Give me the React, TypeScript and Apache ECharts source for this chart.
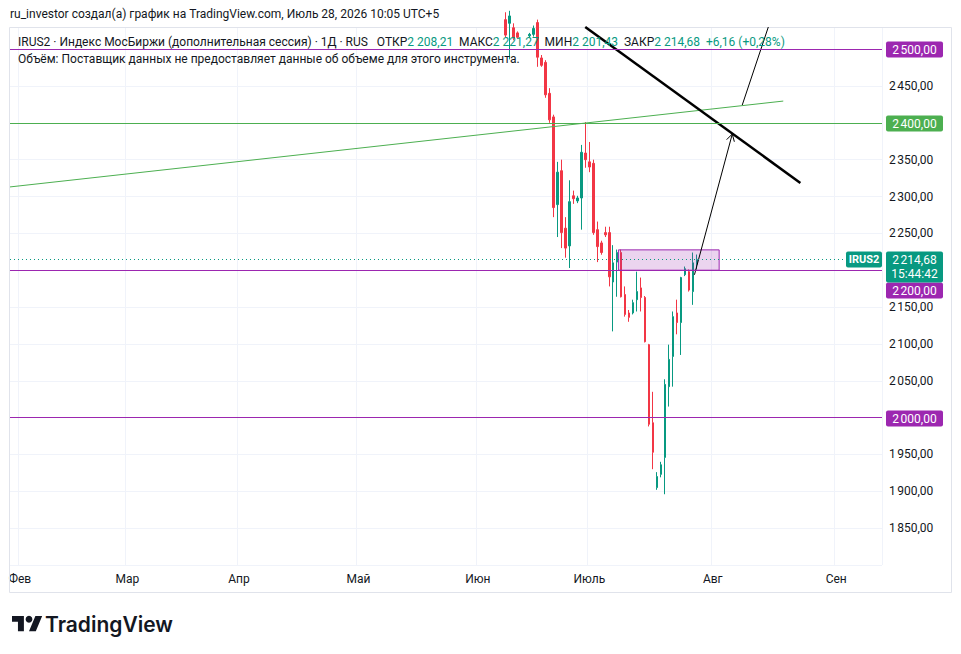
import React, { useEffect, useRef } from 'react';
import * as echarts from 'echarts';

// ---------- data ----------
const calendarStart = '2026-01-30';
const calendarEnd = '2026-09-12';
const closedDays = ['2026-02-23', '2026-03-07', '2026-03-08', '2026-03-09', '2026-05-01', '2026-06-12', '2026-06-13'];
const monthLabels = ['Янв', 'Фев', 'Мар', 'Апр', 'Май', 'Июн', 'Июль', 'Авг', 'Сен', 'Окт', 'Ноя', 'Дек'];

const candleDates = [
  '2026-06-08', '2026-06-09', '2026-06-10', '2026-06-11', '2026-06-16', '2026-06-17', '2026-06-18', '2026-06-19',
  '2026-06-20', '2026-06-21', '2026-06-22', '2026-06-23', '2026-06-24', '2026-06-25', '2026-06-26', '2026-06-27',
  '2026-06-28', '2026-06-29', '2026-06-30', '2026-07-01', '2026-07-02', '2026-07-03', '2026-07-04', '2026-07-05',
  '2026-07-06', '2026-07-07', '2026-07-08', '2026-07-09', '2026-07-10', '2026-07-11', '2026-07-12', '2026-07-13',
  '2026-07-14', '2026-07-15', '2026-07-16', '2026-07-17', '2026-07-18', '2026-07-19', '2026-07-20', '2026-07-21',
  '2026-07-22', '2026-07-23', '2026-07-24', '2026-07-25', '2026-07-26', '2026-07-27', '2026-07-28',
];
const openValues = [
  2540, 2535, 2529, 2522, 2518, 2520, 2536, 2488,
  2482, 2440, 2408, 2289, 2335, 2257, 2233, 2301,
  2294, 2298, 2359, 2347, 2345, 2255, 2237, 2251,
  2251, 2184, 2211, 2224, 2167, 2142, 2142, 2160,
  2176, 2163, 2099, 1993, 1905, 1923, 1946, 2042,
  2083, 2142, 2129, 2194, 2198, 2171, 2208.21,
];
const closeValues = [
  2519, 2545, 2515, 2516, 2520, 2528, 2489, 2478,
  2438, 2404, 2285, 2333, 2251, 2230, 2293, 2297,
  2298, 2360, 2350, 2340, 2251, 2232, 2224, 2248,
  2191, 2210, 2224, 2164, 2140, 2136, 2156, 2171,
  2163, 2103, 1991, 1953, 1920, 1936, 2045, 2079,
  2137, 2129, 2190, 2202, 2173, 2210, 2214.68,
];
const lowValues = [
  2516, 2486, 2512, 2514, 2516, 2517, 2476, 2476,
  2434, 2400, 2272, 2245, 2230, 2217, 2203, 2290,
  2291, 2255, 2339, 2333, 2248, 2211, 2221, 2245,
  2178, 2117, 2164, 2163, 2137, 2130, 2140, 2144,
  2144, 2102, 1988, 1930, 1902, 1919, 1896, 2015,
  2042, 2113, 2085, 2192, 2171, 2153, 2201.43,
];
const highValues = [
  2550, 2552, 2535, 2524, 2522, 2532, 2540, 2492,
  2485, 2447, 2411, 2347, 2350, 2272, 2322, 2308,
  2301, 2370, 2401, 2374, 2350, 2266, 2240, 2259,
  2259, 2234, 2228, 2228, 2178, 2146, 2160, 2198,
  2190, 2165, 2100, 2035, 1926, 1940, 2052, 2099,
  2144, 2160, 2191, 2205, 2201, 2224, 2221.27,
];

const levelValues = [2500, 2400, 2200, 2000];
const levelColors = ['#9c27b0', '#4caf50', '#9c27b0', '#9c27b0'];
const lastPrice = 2214.68;
const lastTime = '15:44:42';
const symbolName = 'IRUS2';

// drawings: [bar position, price] pairs
const greenTrend = [[-0.5, 2313.0], [193.7, 2429.5]];
const blackTrend = [[143.97, 2530], [198.0, 2318.4]];
const arrowUp = [[171.4, 2193.8], [180.9, 2384.8]];
const arrowTop = [[183.4, 2424.1], [189.95, 2530]];
const zoneBox = [[152.3, 2200], [177.6, 2227.6]];

const titleText = 'ru_investor создал(а) график на TradingView.com, Июль 28, 2026 10:05 UTC+5';
const legendName = 'IRUS2 · Индекс МосБиржи (дополнительная сессия) · 1Д · RUS';
const legendFields = [
  ['ОТКР', '2 208,21'],
  ['МАКС', '2 221,27'],
  ['МИН', '2 201,43'],
  ['ЗАКР', '2 214,68'],
];
const legendChange = '+6,16 (+0,28%)';
const volumeText = 'Объём: Поставщик данных не предоставляет данные об объеме для этого инструмента.';

// ---------- styles ----------
const UP = '#089981';
const DOWN = '#f23645';
const TEXT = '#131722';
const FONT = 'Roboto, "Noto Sans", sans-serif';
const HFONT = `12px ${FONT}`;

const fmt = (v: number) => {
  const [i, d] = v.toFixed(2).split('.');
  return i.replace(/\B(?=(\d{3})+(?!\d))/g, '\u202F') + ',' + d;
};

function buildCategories() {
  const out: string[] = [];
  const d = new Date(calendarStart + 'T00:00:00Z');
  const end = new Date(calendarEnd + 'T00:00:00Z');
  while (d <= end) {
    const s = d.toISOString().slice(0, 10);
    if (!closedDays.includes(s)) out.push(s);
    d.setUTCDate(d.getUTCDate() + 1);
  }
  return out;
}

echarts.graphic.registerShape(
  'tvlogo',
  echarts.graphic.extendPath('M14 22H7V11H0V4h14v18zM28 22h-8l7.5-18h8L28 22z', {}) as any
);

export default function App() {
  const ref = useRef<HTMLDivElement>(null);

  useEffect(() => {
    if (!ref.current) return;
    const chart = echarts.init(ref.current, undefined, { renderer: 'svg' });

    const categories = buildCategories();
    const N = categories.length;
    const monthStarts = new Set<number>();
    for (let i = 1; i < N; i++) {
      if (categories[i].slice(5, 7) !== categories[i - 1].slice(5, 7)) monthStarts.add(i);
    }
    const candleMap: Record<string, number[]> = {};
    candleDates.forEach((d, i) => {
      candleMap[d] = [openValues[i], closeValues[i], lowValues[i], highValues[i]];
    });
    const candleData = categories.map((c) => (candleMap[c] ? candleMap[c] : '-'));

    const hiddenLabels = new Set(levelValues);
    const drawings = [
      [greenTrend[0][0], greenTrend[0][1], greenTrend[1][0], greenTrend[1][1], 0],
      [zoneBox[0][0], zoneBox[0][1], zoneBox[1][0], zoneBox[1][1], 4],
      [blackTrend[0][0], blackTrend[0][1], blackTrend[1][0], blackTrend[1][1], 1],
      [arrowUp[0][0], arrowUp[0][1], arrowUp[1][0], arrowUp[1][1], 2],
      [arrowTop[0][0], arrowTop[0][1], arrowTop[1][0], arrowTop[1][1], 3],
    ];

    const option: any = {
      animation: false,
      backgroundColor: '#ffffff',
      grid: { left: 10, right: 79, top: 27, bottom: 89, containLabel: false },
      xAxis: [
        {
          type: 'category',
          data: categories,
          boundaryGap: true,
          axisLine: { show: false },
          axisTick: { show: false },
          axisLabel: {
            interval: (i: number) => monthStarts.has(i),
            formatter: (v: string) => monthLabels[parseInt(v.slice(5, 7), 10) - 1],
            color: TEXT,
            fontSize: 12,
            fontFamily: FONT,
            margin: 8,
          },
          splitLine: {
            show: true,
            interval: (i: number) => monthStarts.has(i),
            lineStyle: { color: '#f0f3fa', width: 1 },
          },
        },
        { type: 'value', min: -0.5, max: N - 0.5, show: false },
      ],
      yAxis: {
        type: 'value',
        position: 'right',
        min: 1800,
        max: 2530,
        interval: 50,
        axisLine: { show: false },
        axisTick: { show: false },
        axisLabel: {
          margin: 7,
          color: TEXT,
          fontSize: 12,
          fontFamily: FONT,
          formatter: (v: number) => (v % 50 !== 0 || v <= 1800 || hiddenLabels.has(v) ? '' : fmt(v)),
        },
        splitLine: { lineStyle: { color: '#f0f3fa', width: 1 } },
      },
      series: [
        {
          type: 'candlestick',
          xAxisIndex: 0,
          yAxisIndex: 0,
          data: candleData,
          barWidth: 2,
          clip: true,
          itemStyle: { color: UP, color0: DOWN, borderColor: UP, borderColor0: DOWN, borderWidth: 1 },
          markLine: {
            silent: true,
            symbol: ['none', 'none'],
            label: { show: false },
            data: [
              ...levelValues.map((v, i) => ({ yAxis: v, lineStyle: { color: levelColors[i], width: 1, type: 'solid' } })),
              { yAxis: lastPrice, lineStyle: { color: UP, width: 1, type: [1, 3] } },
            ],
          },
        },
        {
          type: 'custom',
          xAxisIndex: 1,
          yAxisIndex: 0,
          silent: true,
          clip: false,
          z: 4,
          data: drawings,
          renderItem: (params: any, api: any) => {
            const p1 = api.coord([api.value(0), api.value(1)]);
            const p2 = api.coord([api.value(2), api.value(3)]);
            const kind = api.value(4);
            const line = (stroke: string, w: number) => ({
              type: 'line',
              shape: { x1: p1[0], y1: p1[1], x2: p2[0], y2: p2[1] },
              style: { stroke, lineWidth: w, fill: null },
            });
            if (kind === 0) return line('#4caf50', 1);
            if (kind === 1) return line('#000000', 2.5);
            if (kind === 3) return line('#000000', 1);
            if (kind === 4) {
              return {
                type: 'rect',
                shape: {
                  x: Math.min(p1[0], p2[0]),
                  y: Math.min(p1[1], p2[1]),
                  width: Math.abs(p2[0] - p1[0]),
                  height: Math.abs(p2[1] - p1[1]),
                },
                style: { fill: 'rgba(156,39,176,0.2)', stroke: '#9c27b0', lineWidth: 1 },
              };
            }
            const a = Math.atan2(p2[1] - p1[1], p2[0] - p1[0]);
            const L = 8;
            const s = Math.PI / 6;
            return {
              type: 'group',
              children: [
                line('#000000', 1),
                {
                  type: 'polyline',
                  shape: {
                    points: [
                      [p2[0] - L * Math.cos(a - s), p2[1] - L * Math.sin(a - s)],
                      [p2[0], p2[1]],
                      [p2[0] - L * Math.cos(a + s), p2[1] - L * Math.sin(a + s)],
                    ],
                  },
                  style: { stroke: '#000000', lineWidth: 1, fill: null },
                },
              ],
            };
          },
        },
      ],
    };
    chart.setOption(option);

    const yPix = (v: number) => chart.convertToPixel({ yAxisIndex: 0 }, v) as number;
    const boxX = 886;
    const boxW = 57;
    const py = yPix(lastPrice);
    const priceTop = Math.round(py) - 7.5;
    const priceBottom = priceTop + 31;

    const graphics: any[] = [];
    graphics.push({
      type: 'rect',
      shape: { x: 9.5, y: 27.5, width: 942, height: 565 },
      style: { fill: 'none', stroke: '#e0e3eb', lineWidth: 1 },
      z: 1,
      silent: true,
    });
    levelValues.forEach((v, i) => {
      let top = Math.round(yPix(v)) - 7.5;
      if (top < priceBottom && top + 16 > priceTop) top = priceBottom;
      graphics.push({
        type: 'rect',
        shape: { x: boxX, y: top, width: boxW, height: 16, r: 2 },
        style: { fill: levelColors[i] },
        z: 50,
      });
      graphics.push({
        type: 'text',
        x: boxX + boxW / 2,
        y: top + 8,
        style: { text: fmt(v), fill: '#ffffff', font: `12px ${FONT}`, align: 'center', verticalAlign: 'middle' },
        z: 51,
      });
    });
    graphics.push({
      type: 'rect',
      shape: { x: boxX, y: priceTop, width: boxW, height: 31, r: 2 },
      style: { fill: UP },
      z: 52,
    });
    graphics.push({
      type: 'text',
      x: boxX + boxW / 2,
      y: priceTop + 8,
      style: { text: fmt(lastPrice), fill: '#ffffff', font: `12px ${FONT}`, align: 'center', verticalAlign: 'middle' },
      z: 53,
    });
    graphics.push({
      type: 'text',
      x: boxX + boxW / 2,
      y: priceTop + 22,
      style: { text: lastTime, fill: '#ffffff', font: `12px ${FONT}`, align: 'center', verticalAlign: 'middle' },
      z: 53,
    });
    graphics.push({
      type: 'rect',
      shape: { x: 846, y: priceTop, width: 36, height: 16, r: 2 },
      style: { fill: UP },
      z: 52,
    });
    graphics.push({
      type: 'text',
      x: 864,
      y: priceTop + 8,
      style: { text: symbolName, fill: '#ffffff', font: `bold 11px ${FONT}`, align: 'center', verticalAlign: 'middle' },
      z: 53,
    });
    // header
    graphics.push({
      type: 'text',
      x: 10,
      y: 14,
      style: { text: titleText, fill: TEXT, font: HFONT, verticalAlign: 'middle' },
      z: 60,
    });
    const legendRich =
      `{a|${legendName}   }` +
      legendFields.map((f) => `{a|${f[0]}}{b|${f[1]}  }`).join('') +
      `{b|${legendChange}}`;
    graphics.push({
      type: 'text',
      x: 18,
      y: 42,
      style: {
        text: legendRich,
        font: HFONT,
        verticalAlign: 'middle',
        rich: { a: { fill: TEXT, font: HFONT }, b: { fill: UP, font: HFONT } },
      },
      z: 60,
    });
    graphics.push({
      type: 'text',
      x: 18,
      y: 59,
      style: { text: volumeText, fill: TEXT, font: HFONT, verticalAlign: 'middle' },
      z: 60,
    });
    // logo
    graphics.push({
      type: 'tvlogo',
      x: 12,
      y: 612.5,
      scaleX: 0.85,
      scaleY: 0.85,
      style: { fill: TEXT },
      z: 60,
    });
    graphics.push({
      type: 'circle',
      shape: { cx: 12 + 20 * 0.85, cy: 612.5 + 8 * 0.85, r: 4 * 0.85 },
      style: { fill: TEXT },
      z: 60,
    });
    graphics.push({
      type: 'text',
      x: 45,
      y: 624,
      style: { text: 'TradingView', fill: TEXT, font: `600 21px Inter, ${FONT}`, verticalAlign: 'middle' },
      z: 60,
    });

    chart.setOption({ graphic: graphics });

    return () => chart.dispose();
  }, []);

  return (
    <div
      ref={ref}
      style={{ position: 'fixed', left: 0, top: 0, width: 961, height: 654, background: '#ffffff' }}
    />
  );
}
